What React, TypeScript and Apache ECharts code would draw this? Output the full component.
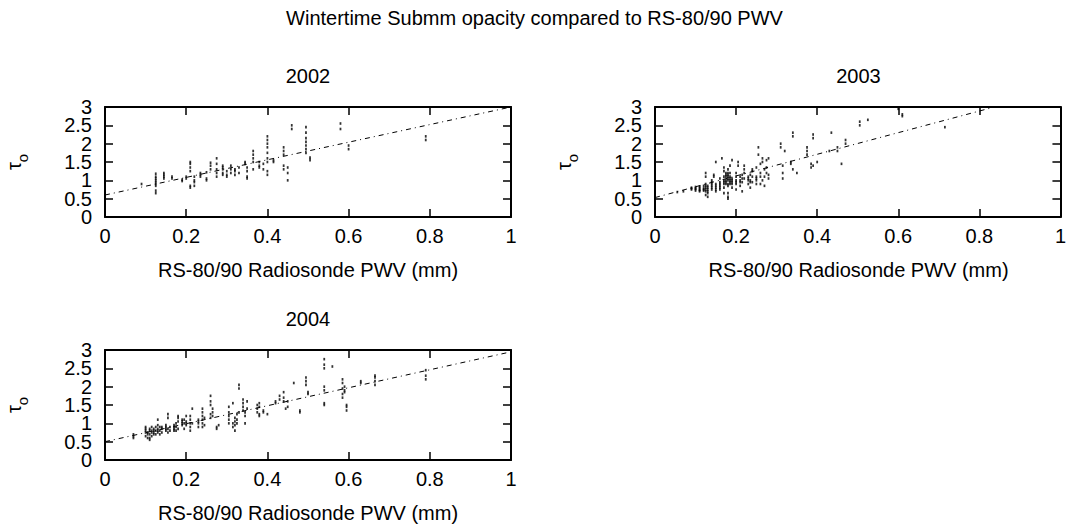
import React, { useEffect, useRef } from "react";
import * as echarts from "echarts";

const FONT = '"Liberation Sans", Arial, Helvetica, sans-serif';

const MAIN_TITLE = "Wintertime Submm opacity compared to RS-80/90 PWV";
const YEARS = ["2002", "2003", "2004"];
const X_NAME = "RS-80/90 Radiosonde PWV (mm)";

// PWV (mm) of each radiosonde launch and the tau values measured around it
const pwv2002 = [0.09, 0.125, 0.145, 0.165, 0.19, 0.2, 0.21, 0.22, 0.235, 0.25, 0.26, 0.275, 0.29, 0.3, 0.31, 0.32, 0.33, 0.345, 0.35, 0.365, 0.38, 0.39, 0.4, 0.415, 0.44, 0.45, 0.46, 0.495, 0.505, 0.58, 0.6, 0.79];
const tau2002 = [
  [0.9], [0.65, 0.72, 0.85, 0.9, 0.95, 1.0, 1.05, 1.1, 1.18], [1.05, 1.1, 1.15, 1.2], [1.05, 1.1], [0.98, 1.02],
  [1.05, 1.1], [0.8, 0.85, 1.25, 1.35, 1.45, 1.5], [0.85, 0.95, 1.0, 1.1], [1.1, 1.15, 1.2], [1.0, 1.05, 1.22],
  [1.3, 1.4, 1.48], [1.1, 1.2, 1.3, 1.45, 1.6], [1.15, 1.2, 1.3, 1.35, 1.4], [1.1, 1.15, 1.25], [1.2, 1.3, 1.4],
  [1.15, 1.25, 1.3], [1.2, 1.35], [1.45, 1.5], [1.05, 1.1, 1.25, 1.35], [1.3, 1.5, 1.6, 1.7, 1.8],
  [1.35, 1.4, 1.5], [1.3, 1.45], [1.15, 1.25, 1.5, 1.6, 1.75, 1.9, 2.0, 2.1, 2.2], [1.5, 1.55], [1.3, 1.4, 1.7, 1.8, 1.9],
  [1.0, 1.2, 1.35], [2.4, 2.5], [1.75, 1.85, 1.95, 2.05, 2.15, 2.3, 2.45], [1.55, 1.62], [2.4, 2.55],
  [1.85, 1.95], [2.1, 2.2],
];

const pwv2003 = [0.055, 0.07, 0.09, 0.1, 0.11, 0.12, 0.125, 0.13, 0.14, 0.145, 0.15, 0.16, 0.165, 0.17, 0.175, 0.18, 0.185, 0.19, 0.2, 0.205, 0.21, 0.215, 0.22, 0.23, 0.235, 0.24, 0.25, 0.255, 0.26, 0.265, 0.27, 0.275, 0.28, 0.31, 0.315, 0.32, 0.335, 0.34, 0.35, 0.375, 0.385, 0.39, 0.4, 0.43, 0.435, 0.45, 0.46, 0.47, 0.505, 0.525, 0.6, 0.61, 0.715];
const tau2003 = [
  [0.68], [0.7], [0.75, 0.78, 0.8], [0.72, 0.76, 0.78, 0.82], [0.7, 0.73, 0.75, 0.8, 0.83], [0.72, 0.75, 0.78, 0.85],
  [0.6, 0.7, 0.75, 0.8, 0.85, 0.9, 1.1, 1.2], [0.55, 0.65, 0.7, 0.75, 0.8, 0.85], [0.75, 0.8, 0.85, 0.9, 0.95, 1.0], [1.1, 1.15],
  [0.7, 0.75, 0.8, 0.85, 0.9, 1.5], [0.75, 0.8, 0.85, 0.9, 0.95, 1.05], [1.6], [0.65, 0.8, 0.9, 0.95, 1.0, 1.1, 1.25, 1.35],
  [0.9, 0.95, 1.0, 1.1, 1.15, 1.2], [0.5, 0.55, 0.65, 0.85, 0.9, 1.0, 1.05, 1.1, 1.15, 1.2, 1.3], [0.9, 0.95, 1.0, 1.05, 1.1, 1.2, 1.4],
  [0.8, 0.9, 0.95, 1.0, 1.05, 1.55], [0.75, 0.9, 0.95, 1.0, 1.1, 1.2], [1.4, 1.5], [0.85, 0.95, 1.0, 1.1], [0.7, 0.95, 1.05, 1.15],
  [1.05, 1.2, 1.3, 1.4], [0.9, 1.0, 1.05, 1.1], [0.8, 0.95, 1.0, 1.15], [0.95, 1.1, 1.25, 1.3], [0.9, 1.0, 1.05, 1.1, 1.35],
  [1.7, 1.9], [0.9, 1.1, 1.2, 1.45], [1.0, 1.5, 1.6], [0.85, 1.1, 1.3], [1.2, 1.35, 1.55], [1.05, 1.15, 1.6],
  [1.9, 2.0], [1.05, 1.2, 1.4], [1.8], [1.45, 1.5], [1.3, 2.2, 2.3], [1.2], [1.7, 1.8, 1.9], [1.35, 1.45],
  [2.15, 2.25, 1.4], [1.5], [1.8], [2.3], [1.8, 1.9], [1.45], [2.0, 2.1], [2.5, 2.6], [2.65], [2.95], [2.75, 2.8], [2.45],
];

const pwv2004 = [0.07, 0.1, 0.105, 0.11, 0.115, 0.12, 0.125, 0.13, 0.135, 0.14, 0.15, 0.155, 0.16, 0.17, 0.175, 0.18, 0.19, 0.195, 0.2, 0.21, 0.215, 0.23, 0.24, 0.245, 0.26, 0.265, 0.275, 0.28, 0.305, 0.315, 0.32, 0.325, 0.33, 0.34, 0.345, 0.35, 0.375, 0.38, 0.39, 0.4, 0.42, 0.43, 0.44, 0.445, 0.45, 0.465, 0.48, 0.495, 0.5, 0.54, 0.56, 0.585, 0.59, 0.595, 0.63, 0.665, 0.79];
const tau2004 = [
  [0.6, 0.65, 0.7], [0.65, 0.75, 0.8, 0.85, 0.9], [0.6, 0.7, 0.75], [0.55, 0.6, 0.7, 0.8, 0.85], [0.65, 0.75, 0.8, 0.9],
  [0.7, 0.75, 0.8, 0.85], [0.7, 0.8, 0.9], [0.75, 0.8, 0.85, 0.95, 1.1], [0.7, 0.8, 0.9], [0.75, 0.85, 0.9],
  [0.8, 0.85, 0.9, 0.95], [0.75, 0.85, 1.15, 1.25], [0.8, 0.9], [0.8, 0.85, 0.9, 0.95], [0.8, 0.9, 1.0],
  [0.85, 1.05, 1.15, 1.2], [0.95, 1.0, 1.05, 1.1], [0.85, 1.0, 1.1], [0.95, 1.0, 1.05, 1.2], [0.8, 0.9, 1.0, 1.1, 1.2],
  [1.0, 1.4], [0.9, 1.0, 1.05, 1.1], [0.9, 1.0, 1.1, 1.2, 1.3, 1.4], [0.95, 1.15], [1.15, 1.25, 1.5, 1.6, 1.75],
  [1.2, 1.3, 1.4], [0.85, 0.9], [0.95], [1.0, 1.1, 1.2, 1.3, 1.45], [0.9, 1.0, 1.55],
  [0.8, 0.95, 1.05, 1.15], [1.0, 1.1, 1.25], [1.3, 1.95, 2.05], [1.35, 1.45, 1.55, 1.65], [1.0, 1.2, 1.3],
  [1.4, 1.6], [1.3, 1.4, 1.5], [1.2, 1.25, 1.45, 1.55], [1.3, 1.35], [1.25],
  [1.55, 1.6], [1.65, 1.75], [1.6, 1.7, 1.85], [1.4], [1.45, 1.6],
  [2.1], [1.3, 1.35], [2.05, 2.15, 2.25], [1.8, 1.85], [1.5, 1.55, 1.9, 2.0, 2.5, 2.6, 2.75],
  [2.55], [1.7, 1.8, 1.95, 2.1, 2.2], [1.85, 1.9, 2.0], [1.35, 1.45, 1.5], [2.1, 2.15],
  [2.05, 2.15, 2.25, 2.3], [2.2, 2.3, 2.45],
];

// linear fit: [intercept, slope]
const fit2002 = [0.6, 2.4];
const fit2003 = [0.53, 2.95];
const fit2004 = [0.5, 2.45];

const X_RANGE = [0, 1];
const Y_RANGE = [0, 3];
const X_STEP = 0.2;
const Y_STEP = 0.5;

// layout of the three panels (pixels)
const PANELS = [
  { left: 105, top: 107, width: 406, height: 110 },
  { left: 655, top: 107, width: 407, height: 110 },
  { left: 105, top: 350, width: 406, height: 110 },
];

function flatten(pwv: number[], tau: number[][]): number[][] {
  const out: number[][] = [];
  const n = Math.min(pwv.length, tau.length);
  for (let i = 0; i < n; i++) {
    for (const t of tau[i]) out.push([pwv[i], t]);
  }
  return out;
}

const isWhole = (v: number) => Math.abs(v - Math.round(v)) < 1e-6;

export default function App() {
  const ref = useRef<HTMLDivElement>(null);

  useEffect(() => {
    if (!ref.current) return;
    const chart = echarts.init(ref.current, undefined, { renderer: "svg" });

    const datasets = [
      { pts: flatten(pwv2002, tau2002), fit: fit2002 },
      { pts: flatten(pwv2003, tau2003), fit: fit2003 },
      { pts: flatten(pwv2004, tau2004), fit: fit2004 },
    ];

    const axisLine = { show: true, onZero: false, lineStyle: { color: "#000", width: 2 } };
    const tick = { show: true, inside: true, length: 8, lineStyle: { color: "#000", width: 1.5 } };
    const labelStyle = { color: "#000", fontFamily: FONT, fontSize: 20, showMinLabel: true, showMaxLabel: true, hideOverlap: false };

    const grid: any[] = [];
    const xAxis: any[] = [];
    const yAxis: any[] = [];
    const series: any[] = [];
    const graphic: any[] = [];

    PANELS.forEach((p, i) => {
      grid.push({ left: p.left, top: p.top, width: p.width, height: p.height, show: false });
      const xBase = { type: "value", gridIndex: i, min: X_RANGE[0], max: X_RANGE[1], interval: X_STEP, splitLine: { show: false }, axisLine, axisTick: tick };
      const yBase = { type: "value", gridIndex: i, min: Y_RANGE[0], max: Y_RANGE[1], interval: Y_STEP, splitLine: { show: false }, axisLine, axisTick: tick };
      xAxis.push({ ...xBase, position: "bottom", axisLabel: { ...labelStyle, margin: 9 } });
      xAxis.push({ ...xBase, position: "top", axisLabel: { show: false } });
      // whole-number labels
      yAxis.push({
        ...yBase,
        position: "left",
        axisLabel: { ...labelStyle, lineHeight: 18, margin: 13, formatter: (v: number) => (isWhole(v) ? String(v) : "") },
      });
      // half-value labels (same scale, no line / ticks)
      yAxis.push({
        ...yBase,
        position: "left",
        axisLine: { show: false },
        axisTick: { show: false },
        axisLabel: { ...labelStyle, lineHeight: 18, margin: 13, formatter: (v: number) => (isWhole(v) ? "" : String(v)) },
      });
      yAxis.push({ ...yBase, position: "right", axisLabel: { show: false } });

      const d = datasets[i];
      series.push({
        type: "scatter",
        xAxisIndex: i * 2,
        yAxisIndex: i * 3,
        data: d.pts,
        symbol: "rect",
        symbolSize: [1.8, 2.6],
        itemStyle: { color: "#000" },
        silent: true,
      });
      series.push({
        type: "line",
        xAxisIndex: i * 2,
        yAxisIndex: i * 3,
        data: [
          [X_RANGE[0], d.fit[0]],
          [X_RANGE[1], d.fit[0] + d.fit[1] * X_RANGE[1]],
        ],
        symbol: "none",
        clip: true,
        silent: true,
        lineStyle: { color: "#000", width: 1, type: [5, 4, 1, 4] },
      });

      const cx = p.left + p.width / 2;
      graphic.push({
        type: "text",
        x: cx,
        y: p.top - 31,
        style: { text: YEARS[i], font: `20px ${FONT}`, fill: "#000", align: "center", verticalAlign: "middle" },
      });
      graphic.push({
        type: "text",
        x: cx,
        y: p.top + p.height + 53,
        style: { text: X_NAME, font: `20px ${FONT}`, fill: "#000", align: "center", verticalAlign: "middle" },
      });
      graphic.push({
        type: "text",
        x: p.left - 88,
        y: p.top + p.height / 2,
        rotation: Math.PI / 2,
        style: {
          text: "{t|τ}{s|o}",
          fill: "#000",
          align: "center",
          verticalAlign: "middle",
          rich: {
            t: { fontFamily: FONT, fontSize: 20, lineHeight: 26, verticalAlign: "top" },
            s: { fontFamily: FONT, fontSize: 15, lineHeight: 26, verticalAlign: "bottom" },
          },
        },
      });
    });

    graphic.push({
      type: "text",
      x: 534.5,
      y: 18,
      style: { text: MAIN_TITLE, font: `20px ${FONT}`, fill: "#000", align: "center", verticalAlign: "middle" },
    });

    chart.setOption({
      animation: false,
      backgroundColor: "#fff",
      grid,
      xAxis,
      yAxis,
      series,
      graphic,
    });

    return () => chart.dispose();
  }, []);

  return <div ref={ref} style={{ position: "absolute", left: 0, top: 0, width: 1069, height: 524 }} />;
}
